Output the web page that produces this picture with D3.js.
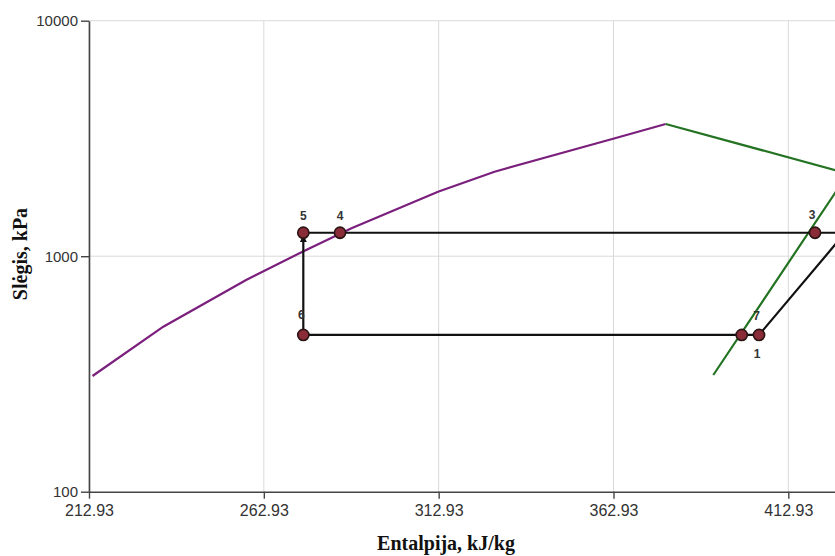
<!DOCTYPE html>
<html>
<head>
<meta charset="utf-8">
<script src="https://cdn.jsdelivr.net/npm/d3@7"></script>
<style>
body { margin: 0; background: #fff; }
svg { display: block; font-family: Arial, "Liberation Sans", sans-serif; }
</style>
</head>
<body>
<svg id="chart" width="835" height="556"></svg>
<script>
// enthalpy kJ/kg / pressure kPa
const xTicks = [212.93, 262.93, 312.93, 362.93, 412.93]
const yTicks = [100, 1000, 10000]

// saturated liquid line (purple)
const liquidH = [213.93, 234.18, 257.86, 273.99, 288.0, 312.75, 328.9, 363.34, 377.86]
const liquidP = [310, 502, 792, 1045, 1314, 1879, 2285, 3167, 3642]

// saturated vapour line (green), from critical point down
const vaporH = [377.86, 430.0, 426.29, 391.48]
const vaporP = [3642, 2243, 1855, 313]

// cycle points 1..7 (2 lies past the right edge)
const cycleNames = ["1", "2", "3", "4", "5", "6", "7"]
const cycleH = [404.55, 429.2, 420.57, 284.72, 274.22, 274.22, 399.6]
const cycleP = [463, 1258, 1258, 1258, 1258, 463, 463]

const margin = {left: 89, top: 20.7, bottom: 491.7, right: 848}
const labelShift = {"1": [-2, 19], "2": [0, -18], "3": [-3, -18], "4": [0, -17], "5": [0, -17], "6": [-2, -20], "7": [15, -19]}

const svg = d3.select("#chart")

const x = d3.scaleLinear().domain([212.93, 430.0]).range([margin.left, margin.right])
const y = d3.scaleLog().domain([100, 10000]).range([margin.bottom, margin.top])

// grid
svg.append("g").selectAll("line").data(xTicks).join("line")
	.attr("x1", d => x(d)).attr("x2", d => x(d))
	.attr("y1", margin.top).attr("y2", margin.bottom)
	.attr("stroke", "#dadada").attr("stroke-width", 1)
svg.append("g").selectAll("line").data(yTicks.slice(1)).join("line")
	.attr("x1", margin.left).attr("x2", margin.right)
	.attr("y1", d => y(d)).attr("y2", d => y(d))
	.attr("stroke", "#dadada").attr("stroke-width", 1)

// axes
let yAxis = svg.append("g").attr("transform", `translate(${margin.left},0)`)
	.call(d3.axisLeft(y).tickValues(yTicks).tickFormat(d3.format("d")).tickSize(8).tickSizeOuter(0).tickPadding(3))
let xAxis = svg.append("g").attr("transform", `translate(0,${margin.bottom})`)
	.call(d3.axisBottom(x).tickValues(xTicks).tickFormat(d => d.toFixed(2)).tickSize(7).tickSizeOuter(0).tickPadding(6))
for (let ax of [xAxis, yAxis]) {
	ax.select(".domain").attr("stroke", "#444").attr("stroke-width", 1.6)
	ax.selectAll(".tick line").attr("stroke", "#444").attr("stroke-width", 1.4)
	ax.selectAll("text").attr("fill", "#333").attr("font-family", "Arial, 'Liberation Sans', sans-serif")
}
yAxis.selectAll("text").attr("font-size", 15)
xAxis.selectAll("text").attr("font-size", 16)

// axis titles
svg.append("text")
	.attr("x", 446).attr("y", 550)
	.attr("text-anchor", "middle")
	.attr("font-family", "'Liberation Serif', 'Times New Roman', serif")
	.attr("font-weight", "bold").attr("font-size", 20).attr("fill", "#111")
	.text("Entalpija, kJ/kg")
svg.append("text")
	.attr("transform", "translate(27,254) rotate(-90)")
	.attr("text-anchor", "middle")
	.attr("font-family", "'Liberation Serif', 'Times New Roman', serif")
	.attr("font-weight", "bold").attr("font-size", 20).attr("fill", "#111")
	.text("Slėgis, kPa")

const line = d3.line().x(d => x(d[0])).y(d => y(d[1]))

svg.append("path").datum(d3.zip(liquidH, liquidP))
	.attr("d", line).attr("fill", "none").attr("stroke", "#7b1f7d").attr("stroke-width", 2.2)
svg.append("path").datum(d3.zip(vaporH, vaporP))
	.attr("d", line).attr("fill", "none").attr("stroke", "#237323").attr("stroke-width", 2.2)

// cycle
const pts = cycleNames.map((n, i) => ({name: n, h: cycleH[i], p: cycleP[i]}))
const byName = n => pts.find(d => d.name === n)
const cyc = (names) => names.map(n => [byName(n).h, byName(n).p])

svg.append("path").datum(cyc(["1", "2", "3", "4", "5"]))
	.attr("d", line).attr("fill", "none").attr("stroke", "#111").attr("stroke-width", 2.2)
svg.append("path").datum(cyc(["6", "7", "1"]))
	.attr("d", line).attr("fill", "none").attr("stroke", "#111").attr("stroke-width", 2.2)

// expansion 6 -> 5 with arrow head
svg.append("defs").append("marker")
	.attr("id", "arr").attr("viewBox", "0 0 10 10").attr("refX", 9).attr("refY", 5)
	.attr("markerWidth", 3.2).attr("markerHeight", 3.2).attr("orient", "auto")
	.append("path").attr("d", "M0,0L10,5L0,10z").attr("fill", "#111")
let p5 = byName("5"), p6 = byName("6")
svg.append("line")
	.attr("x1", x(p6.h)).attr("y1", y(p6.p))
	.attr("x2", x(p5.h)).attr("y2", y(p5.p) + 3)
	.attr("stroke", "#111").attr("stroke-width", 2.2)
	.attr("marker-end", "url(#arr)")

svg.append("g").selectAll("circle").data(pts).join("circle")
	.attr("cx", d => x(d.h)).attr("cy", d => y(d.p)).attr("r", 5.6)
	.attr("fill", "#8a2c38").attr("stroke", "#2b1414").attr("stroke-width", 1.6)

// point 2 sits outside the visible width, so its label is left out
svg.append("g").selectAll("text").data(pts.filter(d => x(d.h) < 835)).join("text")
	.attr("x", d => x(d.h) + labelShift[d.name][0])
	.attr("y", d => y(d.p) + labelShift[d.name][1])
	.attr("text-anchor", "middle").attr("dominant-baseline", "central")
	.attr("font-size", 12).attr("font-weight", "bold").attr("fill", "#333")
	.text(d => d.name)
</script>
</body>
</html>
